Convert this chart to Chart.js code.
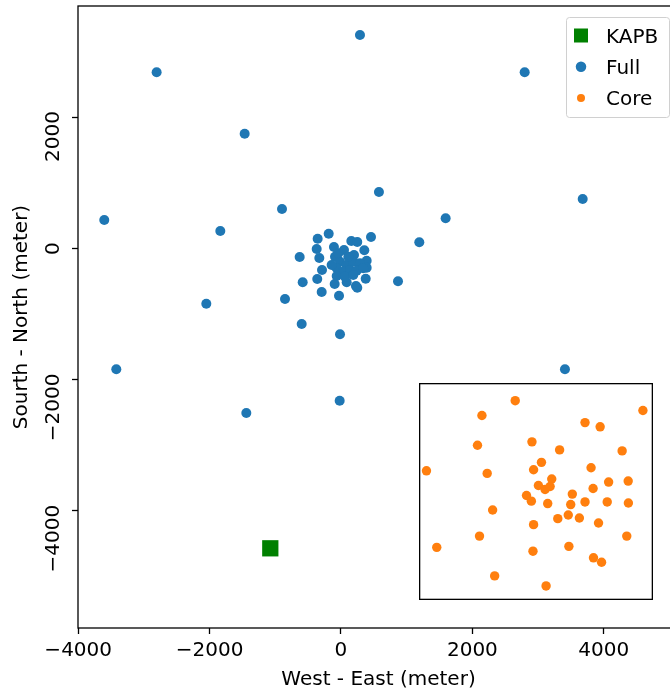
<!DOCTYPE html>
<html>
<head>
<meta charset="utf-8">
<script src="https://cdn.jsdelivr.net/npm/chart.js@4.4.1/dist/chart.umd.min.js"></script>
<style>
  html, body { margin: 0; padding: 0; overflow: hidden; background: #fff; }
  #wrap { position: relative; width: 670px; height: 693px; overflow: hidden; }
  #mainChart { position: absolute; left: 0; top: 0; }
  #coreChart { position: absolute; left: 419px; top: 383px; background: #fff; }
</style>
</head>
<body>
<div id="wrap">
  <canvas id="mainChart" width="690" height="693"></canvas>
  <canvas id="coreChart" width="234" height="217"></canvas>
</div>
<script>
// station positions, metres
const kapbX = [-1076];
const kapbY = [-4570];

const fullX = [289, -2806, 2796, -1466, -3603, -1837, -898, 578, 3679, 1593,
  1192, 868, -2050, -852, -598, -15, -3420, 3409, -1441, -20,
  -355, -187, -370, -629, -330, -107, 46, 157, 248, 457,
  355, 198, 391, 391, -289, -583, -361, -96, 87, 228,
  248, 376, -294, -30, -91, -15, 87, 187, 289, -65,
  35, 137, 239, 339, -65, 61, 187, -142, -41, 111];
const fullY = [3250, 2681, 2681, 1746, 431, 264, 599, 858, 751, 457,
  91, -503, -844, -772, -1153, -1310, -1843, -1843, -2509, -2321,
  146, 222, -11, -133, -148, 20, -26, 111, 96, 172,
  -30, -102, -189, -296, -331, -518, -468, -544, -518, -574,
  -600, -463, -666, -722, -128, -204, -254, -204, -229, -305,
  -356, -331, -341, -305, -422, -432, -407, -254, -76, -128];

// core stations (inset axes)
const coreX = [-103, -268, 530, 243, 318, -20, -290, 117, 427, -543,
  -242, 27, -12, 273, 360, 457, 78, 12, 45, 70,
  283, -47, -23, 180, 58, 172, 243, 353, 458, -215,
  108, 160, 215, -12, 310, -280, 450, -492, -15, 163,
  285, 325, -205, 50];
const coreY = [452, 378, 403, 343, 322, 247, 230, 207, 202, 103,
  90, 145, 108, 118, 47, 52, 62, 30, 10, 25,
  15, -20, -48, -13, -60, -65, -52, -52, -57, -92,
  -135, -117, -132, -165, -157, -222, -222, -278, -297, -273,
  -330, -352, -420, -470];

const xTicks = [-4000, -2000, 0, 2000, 4000];
const yTicks = [-4000, -2000, 0, 2000];
const xRange = [-4003, 5145];
const yRange = [-5784, 3691];
const coreXRange = [-580, 580];
const coreYRange = [-540, 540];

const kapbColor = '#008000';
const fullColor = '#1f77b4';
const coreColor = '#ff7f0e';

Chart.defaults.font.family = '"DejaVu Sans", sans-serif';
Chart.defaults.font.size = 20;
Chart.defaults.color = '#000';

function toPoints(xs, ys) {
  return xs.map((x, i) => ({ x: x, y: ys[i] }));
}
function fmt(v) {
  return v < 0 ? '\u2212' + Math.abs(v) : String(v);
}

const framePlugin = {
  id: 'frame',
  afterDatasetsDraw(chart) {
    const a = chart.chartArea;
    const ctx = chart.ctx;
    const inset = chart.options.plugins.frame.inset || 0;
    ctx.save();
    ctx.strokeStyle = '#000';
    ctx.lineWidth = 1.3;
    ctx.strokeRect(a.left + inset, a.top + inset, a.right - a.left - 2 * inset, a.bottom - a.top - 2 * inset);
    ctx.restore();
  }
};

// matplotlib style rotated y tick labels
const yTickLabels = {
  id: 'yTickLabels',
  afterDraw(chart) {
    const s = chart.scales.y;
    const ctx = chart.ctx;
    ctx.save();
    ctx.font = '20px "DejaVu Sans"';
    ctx.fillStyle = '#000';
    ctx.textAlign = 'right';
    ctx.textBaseline = 'alphabetic';
    yTicks.forEach(v => {
      const py = s.getPixelForValue(v);
      ctx.save();
      ctx.translate(chart.chartArea.left - 19.5, py - 6);
      ctx.rotate(-Math.PI / 2);
      ctx.fillText(fmt(v), 0, 0);
      ctx.restore();
    });
    ctx.restore();
  }
};

const legendItems = [
  { label: 'KAPB', color: kapbColor, shape: 'rect', size: 14 },
  { label: 'Full', color: fullColor, shape: 'circle', size: 10.5 },
  { label: 'Core', color: coreColor, shape: 'circle', size: 8 }
];

const boxLegend = {
  id: 'boxLegend',
  afterDraw(chart) {
    const ctx = chart.ctx;
    const left = 566, top = 17, w = 103, h = 100;
    ctx.save();
    ctx.beginPath();
    ctx.roundRect(left + 0.5, top + 0.5, w, h, 3);
    ctx.fillStyle = 'rgba(255,255,255,0.8)';
    ctx.fill();
    ctx.strokeStyle = '#d0d0d0';
    ctx.lineWidth = 1;
    ctx.stroke();
    ctx.font = '20px "DejaVu Sans"';
    ctx.textAlign = 'left';
    ctx.textBaseline = 'alphabetic';
    legendItems.forEach((it, i) => {
      const base = top + 25.5 + i * 31.2;
      const cy = base - 7;
      ctx.fillStyle = it.color;
      if (it.shape === 'rect') {
        ctx.fillRect(581 - it.size / 2, cy - it.size / 2, it.size, it.size);
      } else {
        ctx.beginPath();
        ctx.arc(581, cy, it.size / 2, 0, Math.PI * 2);
        ctx.fill();
      }
      ctx.fillStyle = '#000';
      ctx.fillText(it.label, 606, base);
    });
    ctx.restore();
  }
};

new Chart(document.getElementById('mainChart'), {
  type: 'scatter',
  data: {
    datasets: [
      {
        label: 'KAPB',
        data: toPoints(kapbX, kapbY),
        pointStyle: 'rect',
        pointRadius: 11.5,
        backgroundColor: kapbColor,
        borderWidth: 0
      },
      {
        label: 'Full',
        data: toPoints(fullX, fullY),
        pointStyle: 'circle',
        pointRadius: 5,
        backgroundColor: fullColor,
        borderWidth: 0
      }
    ]
  },
  options: {
    responsive: false,
    animation: false,
    events: [],
    layout: { autoPadding: false, padding: { top: 6, right: 11, left: 0, bottom: 0 } },
    plugins: {
      legend: { display: false },
      tooltip: { enabled: false },
      frame: { inset: 0 }
    },
    scales: {
      x: {
        type: 'linear',
        min: xRange[0],
        max: xRange[1],
        afterBuildTicks: s => { s.ticks = xTicks.map(v => ({ value: v })); },
        afterFit: s => { s.height = 65; },
        border: { display: false },
        grid: { drawOnChartArea: false, drawTicks: true, tickLength: 6, tickWidth: 1.3, tickColor: '#000' },
        ticks: { padding: 5, maxRotation: 0, color: '#000', callback: v => fmt(v) },
        title: { display: true, text: 'West - East (meter)', padding: { top: 0, bottom: 1 }, color: '#000' }
      },
      y: {
        type: 'linear',
        min: yRange[0],
        max: yRange[1],
        afterBuildTicks: s => { s.ticks = yTicks.map(v => ({ value: v })); },
        afterFit: s => { s.width = 78; },
        border: { display: false },
        grid: { drawOnChartArea: false, drawTicks: true, tickLength: 6, tickWidth: 1.3, tickColor: '#000' },
        ticks: { display: false },
        title: { display: true, text: 'Sourth - North (meter)', padding: { top: 10, bottom: 0 }, color: '#000' }
      }
    }
  },
  plugins: [framePlugin, yTickLabels, boxLegend]
});

new Chart(document.getElementById('coreChart'), {
  type: 'scatter',
  data: {
    datasets: [{
      label: 'Core',
      data: toPoints(coreX, coreY),
      pointStyle: 'circle',
      pointRadius: 4.7,
      backgroundColor: coreColor,
      borderWidth: 0
    }]
  },
  options: {
    responsive: false,
    animation: false,
    events: [],
    layout: { autoPadding: false, padding: 0 },
    plugins: {
      legend: { display: false },
      tooltip: { enabled: false },
      frame: { inset: 0.65 }
    },
    scales: {
      x: { type: 'linear', display: false, min: coreXRange[0], max: coreXRange[1] },
      y: { type: 'linear', display: false, min: coreYRange[0], max: coreYRange[1] }
    }
  },
  plugins: [framePlugin]
});
</script>
</body>
</html>
